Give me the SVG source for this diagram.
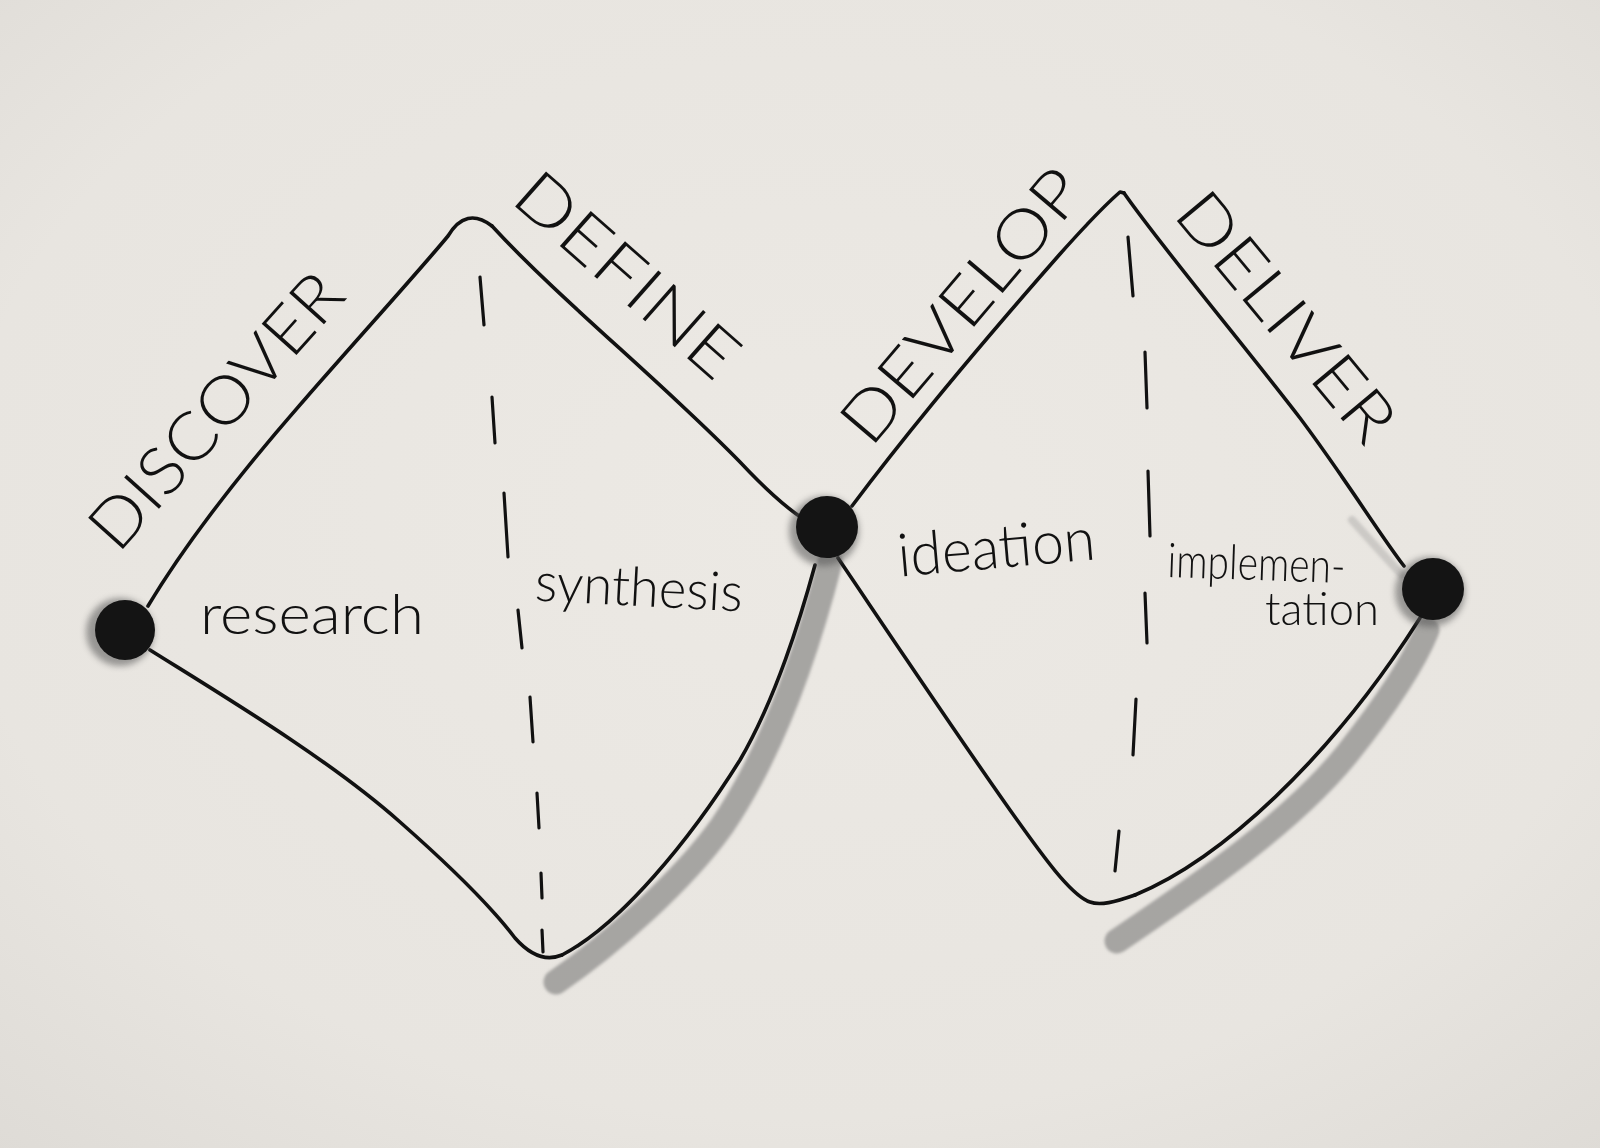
<svg xmlns="http://www.w3.org/2000/svg" width="1600" height="1148" viewBox="0 0 1600 1148">
<defs>
<radialGradient id="paper" cx="50%" cy="45%" r="75%">
<stop offset="0" stop-color="#ece9e4"/>
<stop offset="0.7" stop-color="#e8e5e0"/>
<stop offset="1" stop-color="#dedbd6"/>
</radialGradient>
<filter id="soft" x="-20%" y="-20%" width="140%" height="140%"><feGaussianBlur stdDeviation="1.5"/></filter>
<filter id="fuzz" x="-50%" y="-50%" width="200%" height="200%"><feGaussianBlur stdDeviation="3"/></filter>
</defs>
<style>
.line{fill:none;stroke:#111;stroke-width:3.6;stroke-linecap:round;stroke-linejoin:round}
.dash{fill:none;stroke:#111;stroke-width:3.2;stroke-linecap:round}
.shadow{fill:none;stroke:#9a9996;stroke-width:25;stroke-linecap:round;opacity:0.85}
.dot{fill:#141414}
.halo{fill:#555;opacity:0.55}
.cap{font-family:Lato,"Liberation Sans",sans-serif;font-weight:300;font-size:66px;fill:#111;text-anchor:middle}
.low{font-family:Lato,"Liberation Sans",sans-serif;font-weight:300;fill:#111;text-anchor:middle}
</style>
<rect width="1600" height="1148" fill="url(#paper)"/>

<g id="shadows" filter="url(#soft)">
<path class="shadow" d="M 556 982 C 610 945, 682 882, 722 826 C 772 752, 807 652, 830 562"/>
<path class="shadow" d="M 1117 941 C 1200 885, 1292 822, 1347 754 C 1382 710, 1412 667, 1427 630"/>
<path fill="none" stroke="#a9a7a4" stroke-width="8" stroke-linecap="round" opacity="0.45" d="M 1352 520 C 1370 540, 1388 560, 1402 575"/>
</g>

<g id="connectors">
<path id="discover-edge" class="line" d="M 148 606 C 172 566, 220 496, 306 398 C 360 336, 420 270, 448 236 Q 466 206, 492 226"/>
<path id="define-edge" class="line" d="M 492 226 C 560 300, 660 380, 740 462 C 770 494, 790 510, 802 518"/>
<path id="research-edge" class="line" d="M 150 650 C 230 700, 330 760, 400 822 C 450 866, 490 905, 515 938 C 530 955, 545 962, 562 955"/>
<path id="synthesis-edge" class="line" d="M 562 955 C 620 925, 690 840, 740 760 C 775 700, 800 620, 815 565"/>
<path id="develop-edge" class="line" d="M 852 506 C 900 442, 980 345, 1060 254 C 1085 226, 1105 205, 1120 192 L 1124 193"/>
<path id="deliver-edge" class="line" d="M 1124 193 C 1160 245, 1240 340, 1300 418 C 1345 478, 1380 535, 1404 566"/>
<path id="ideation-edge" class="line" d="M 838 558 C 880 620, 950 725, 1010 810 C 1040 852, 1070 895, 1090 902 C 1100 906, 1115 902, 1135 895"/>
<path id="implementation-edge" class="line" d="M 1135 895 C 1220 860, 1330 760, 1420 618"/>
</g>

<g id="dividers">
<path class="dash" d="M 480 277 L 484 325 M 492 397 L 495 443 M 504 493 L 508 557 M 518 610 L 522 648 M 530 697 L 533 742 M 537 793 L 539 828 M 541 873 L 542 898 M 542 930 L 543 952"/>
<path class="dash" d="M 1128 237 L 1133 296 M 1145 352 L 1147 408 M 1148 471 L 1150 536 M 1145 593 L 1147 643 M 1136 699 L 1133 755 M 1119 831 L 1115 871"/>
</g>

<g id="node-start">
<circle class="halo" cx="120" cy="632" r="34" filter="url(#fuzz)"/>
<circle class="dot" cx="125" cy="630" r="30"/>
</g>
<g id="node-middle">
<circle class="halo" cx="824" cy="531" r="35" filter="url(#fuzz)"/>
<circle class="dot" cx="827" cy="527" r="31"/>
</g>
<g id="node-end">
<circle class="halo" cx="1430" cy="592" r="35" filter="url(#fuzz)"/>
<circle class="dot" cx="1433" cy="589" r="31"/>
</g>

<g id="phase-labels">
<text class="cap" transform="translate(215,410) rotate(-48.2)" x="0" y="24" textLength="345" lengthAdjust="spacingAndGlyphs">DISCOVER</text>
<text class="cap" transform="translate(628,274) rotate(41.4)" x="0" y="24" textLength="275" lengthAdjust="spacingAndGlyphs">DEFINE</text>
<text class="cap" transform="translate(961,305) rotate(-49.7)" x="0" y="24" textLength="336" lengthAdjust="spacingAndGlyphs">DEVELOP</text>
<text class="cap" transform="translate(1287,316) rotate(50.3)" x="0" y="24" textLength="303" lengthAdjust="spacingAndGlyphs">DELIVER</text>
</g>

<g id="activity-labels">
<text class="low" x="312" y="634" font-size="56" textLength="224" lengthAdjust="spacingAndGlyphs">research</text>
<text class="low" transform="rotate(3 638 606)" x="638" y="606" font-size="54" textLength="208" lengthAdjust="spacingAndGlyphs">synthesis</text>
<text class="low" transform="rotate(-5 998 568)" x="998" y="568" font-size="60" textLength="198" lengthAdjust="spacingAndGlyphs">ideation</text>
<text class="low" transform="rotate(2 1256 580)" x="1256" y="580" font-size="48" textLength="178" lengthAdjust="spacingAndGlyphs">implemen-</text>
<text class="low" x="1322" y="625" font-size="46" textLength="114" lengthAdjust="spacingAndGlyphs">tation</text>
</g>
</svg>
